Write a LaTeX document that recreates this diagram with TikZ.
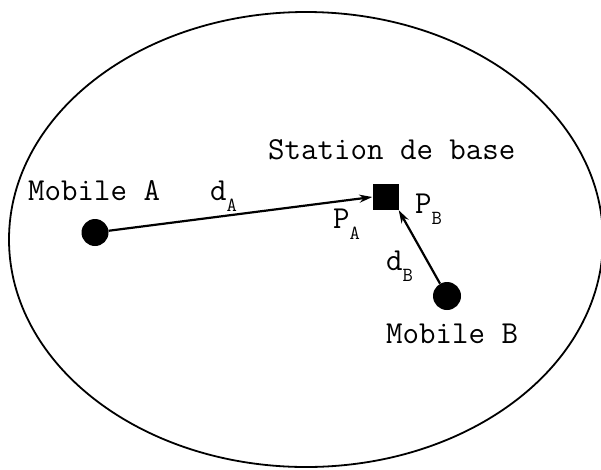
\documentclass[tikz,border=0pt]{standalone}
\usetikzlibrary{arrows.meta}

% indice abaisse, plus petit
\newcommand{\indice}[1]{\raisebox{-11pt}{\fontsize{20}{20}\selectfont #1}}

\begin{document}
\begin{tikzpicture}[x=1pt, y=-1pt, >={Stealth[length=13pt, width=8pt]},
    every node/.style={font=\ttfamily\fontsize{32}{34}\selectfont, inner sep=0pt}]
    \useasboundingbox (0,0) rectangle (601,469);

    % Cellule
    \draw[line width=1.8pt] (306,239.5) ellipse [x radius=297, y radius=227.5];

    % Station de base et mobiles
    \node[fill, minimum size=26pt] (BS) at (385.5,197) {};
    \node[circle, fill, minimum size=27pt] (MA) at (95,232.5) {};
    \node[circle, fill, minimum size=28pt] (MB) at (447,296) {};

    % Liaisons
    \draw[->, line width=2.2pt] (MA) -- (BS.west);
    \draw[->, line width=2.2pt] (MB) -- (BS.south east);

    % Textes
    \node[anchor=base west] (labBS) at (268,159) {Station de base};
    \node[anchor=base west] (labA) at (28,200) {Mobile A};
    \node[anchor=base west] (labB) at (386,343) {Mobile B};
    \node[anchor=base west] (dA) at (210,200) {d\indice{A}};
    \node[anchor=base west] (PA) at (333,228) {P\indice{A}};
    \node[anchor=base west] (PB) at (415,213) {P\indice{B}};
    \node[anchor=base west] (dB) at (386,270) {d\indice{B}};
\end{tikzpicture}
\end{document}
